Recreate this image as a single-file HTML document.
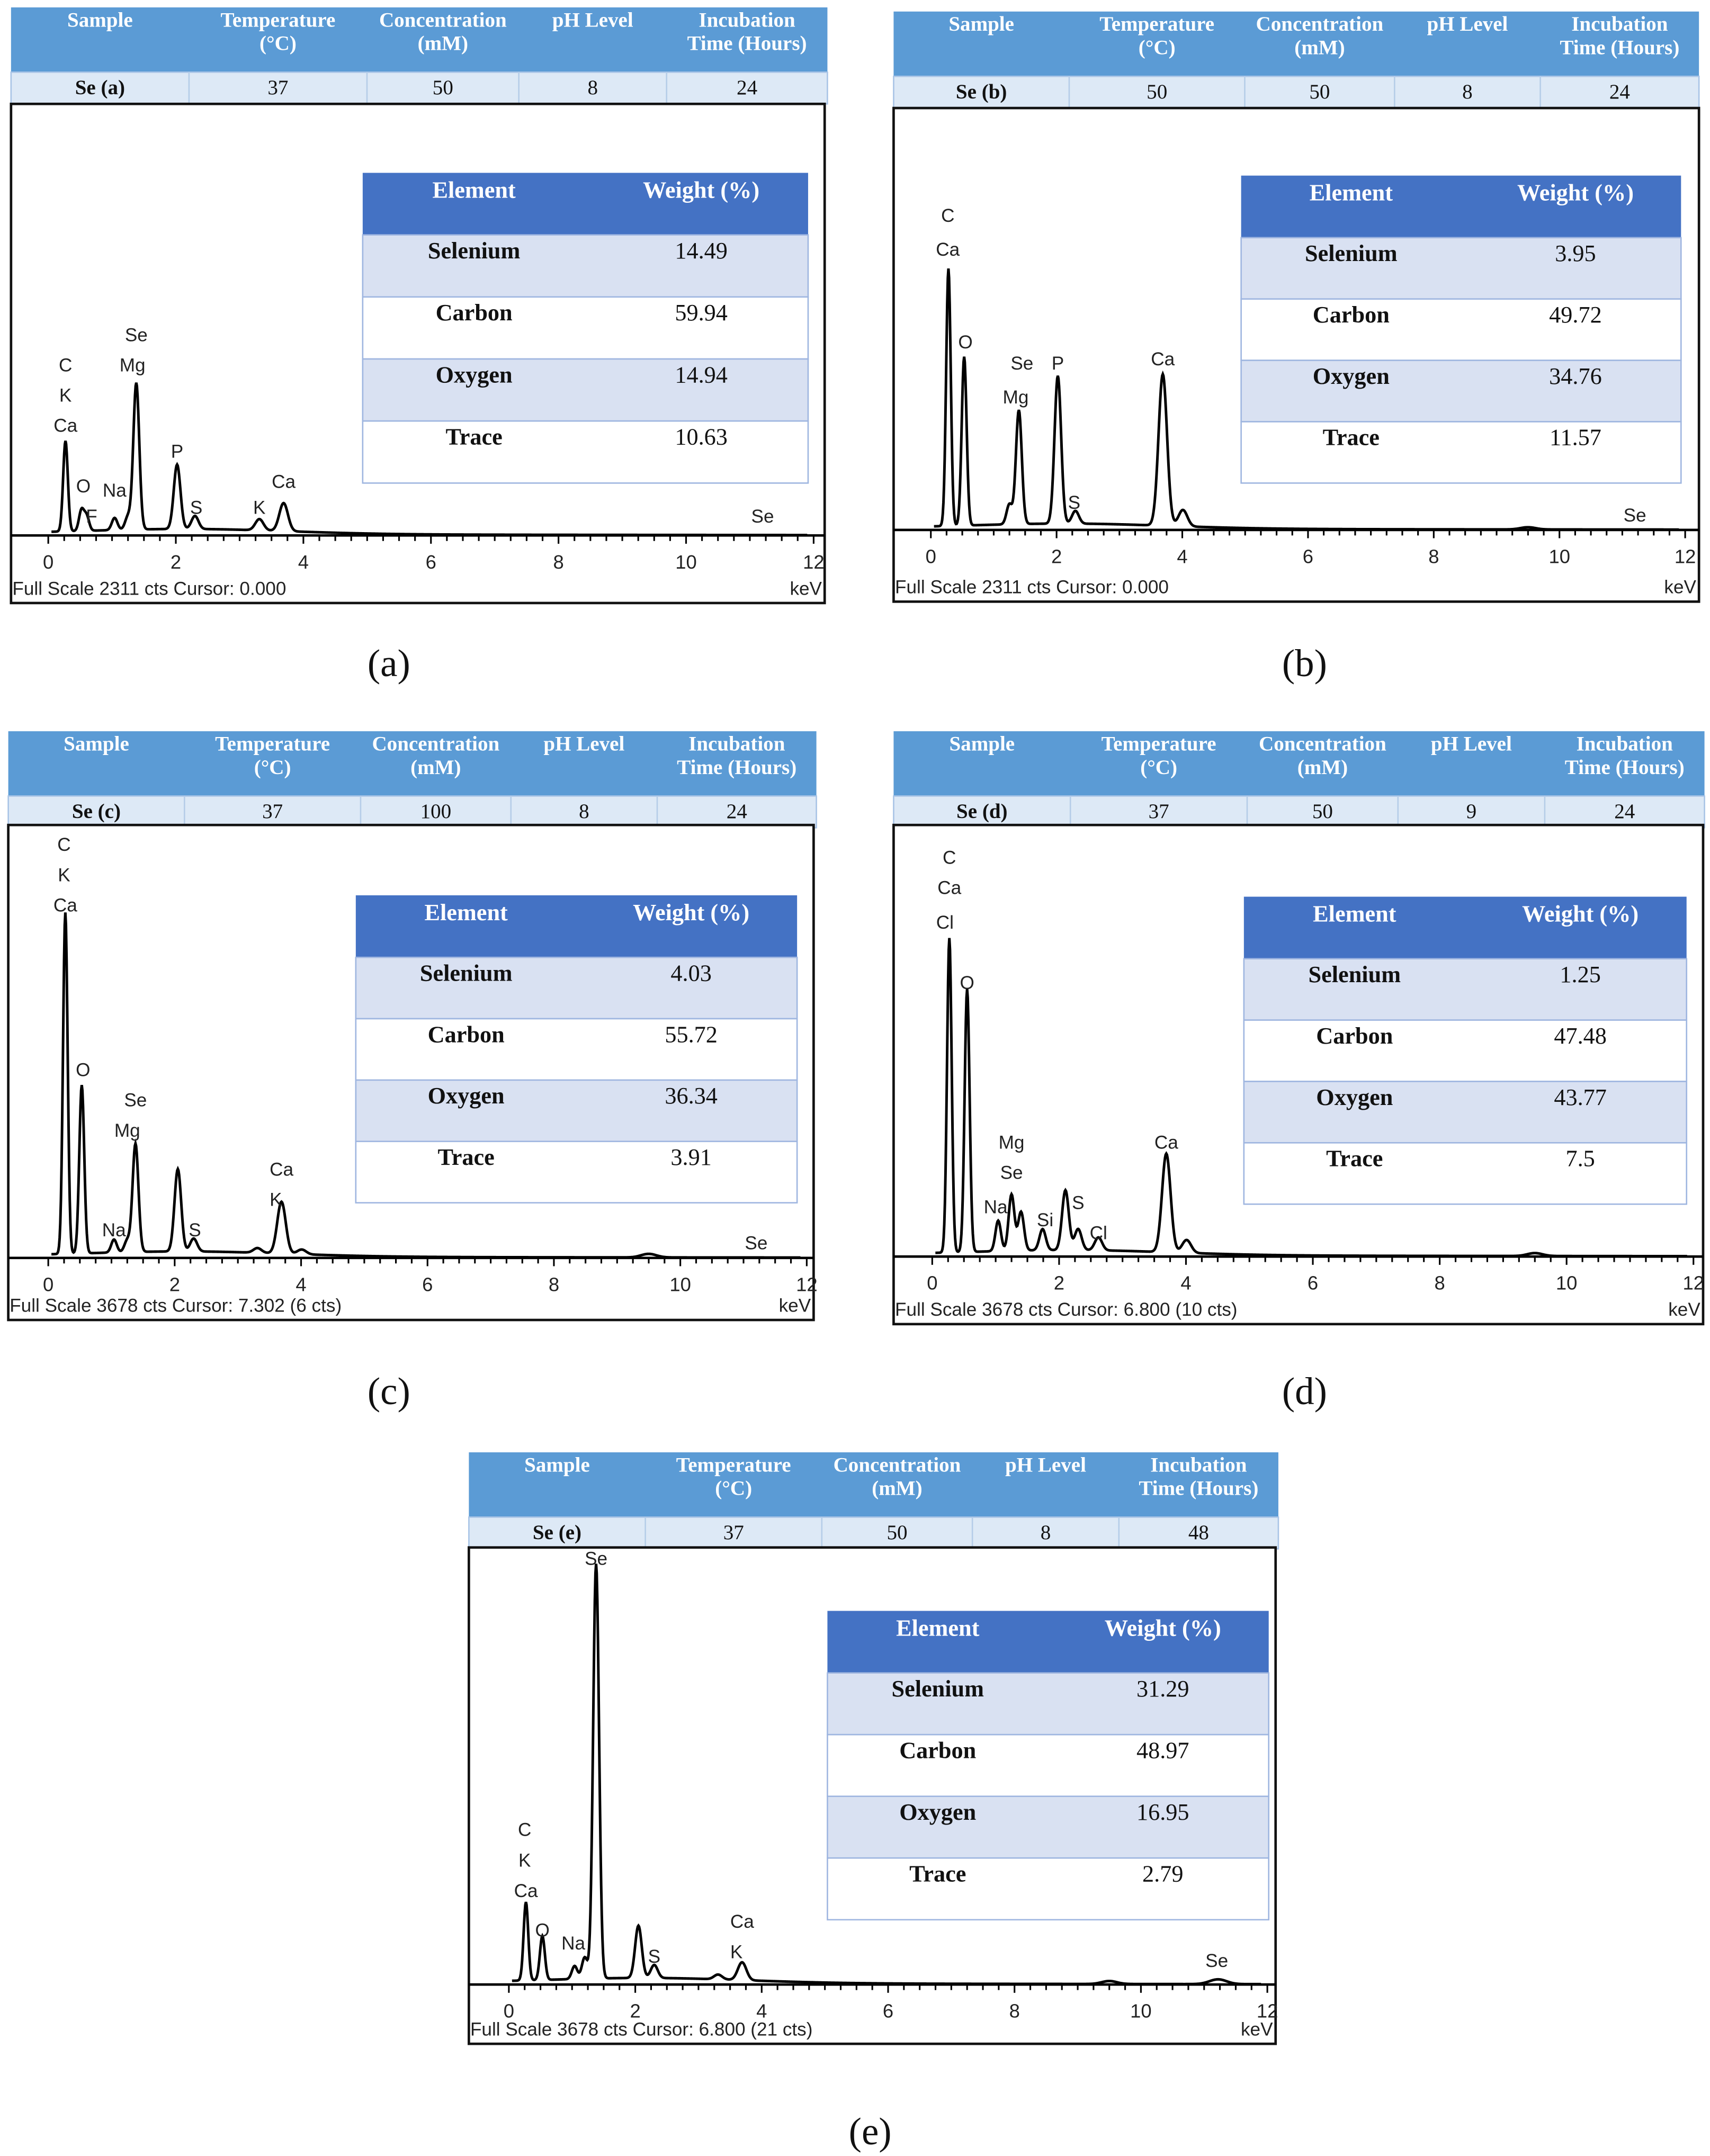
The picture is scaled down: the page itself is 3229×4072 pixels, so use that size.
<!DOCTYPE html>
<html><head><meta charset="utf-8"><style>
html,body{margin:0;padding:0;background:#fff}
svg{display:block}
text{font-family:"Liberation Serif",serif}
.sans{font-family:"Liberation Sans",sans-serif}
</style></head><body>
<svg id="fig" width="3229" height="4072" viewBox="0 0 1240 1563" xmlns="http://www.w3.org/2000/svg"></svg>
<script>
// ---- data ----
const sampleNames = ["Se (a)","Se (b)","Se (c)","Se (d)","Se (e)"];
const temperatures = ["37","50","37","37","37"];
const concentrations = ["50","50","100","50","50"];
const phLevels = ["8","8","8","9","8"];
const incubationTimes = ["24","24","24","24","48"];
const fullScales = [2311,2311,3678,3678,3678];
const cursorTexts = ["Cursor: 0.000","Cursor: 0.000","Cursor: 7.302  (6 cts)","Cursor: 6.800  (10 cts)","Cursor: 6.800  (21 cts)"];
const elementNames = ["Selenium","Carbon","Oxygen","Trace"];
const weightsA = ["14.49","59.94","14.94","10.63"];
const weightsB = ["3.95","49.72","34.76","11.57"];
const weightsC = ["4.03","55.72","36.34","3.91"];
const weightsD = ["1.25","47.48","43.77","7.5"];
const weightsE = ["31.29","48.97","16.95","2.79"];
const xTicks = [0,2,4,6,8,10,12];
// peak energies (keV) and heights (counts) per panel
const peaksEA = [0.27,0.52,0.6,1.04,1.25,1.38,2.02,2.3,3.31,3.69];
const peaksHA = [485,110,80,65,70,785,345,70,60,150];
const peaksEB = [0.28,0.53,1.25,1.4,2.02,2.3,3.69,4.01,9.5];
const peaksHB = [1410,925,110,625,810,70,830,90,12];
const peaksEC = [0.27,0.53,1.04,1.25,1.38,2.05,2.3,3.31,3.69,4.01,9.5];
const peaksHC = [2900,1430,110,100,920,700,110,40,440,40,30];
const peaksED = [0.27,0.55,1.04,1.25,1.4,1.74,2.1,2.3,2.62,3.69,4.01,9.5];
const peaksHD = [2680,2240,260,480,330,180,510,180,110,840,110,25];
const peaksEE = [0.27,0.53,1.04,1.2,1.38,2.05,2.3,3.31,3.69,9.5,11.22];
const peaksHE = [660,370,110,180,3490,440,110,40,150,25,40];
// peak labels: [text, keV, height fraction of plot]
const labelsA = [["C",0.27,0.38],["K",0.27,0.31],["Ca",0.27,0.24],["O",0.55,0.1],["F",0.68,0.03],["Na",1.04,0.09],["Se",1.38,0.45],["Mg",1.32,0.38],["P",2.02,0.18],["S",2.32,0.05],["K",3.31,0.05],["Ca",3.69,0.11],["Se",11.2,0.03]];
const labelsB = [["C",0.27,0.73],["Ca",0.27,0.65],["O",0.55,0.43],["Se",1.45,0.38],["Mg",1.35,0.3],["P",2.02,0.38],["S",2.28,0.05],["Ca",3.69,0.39],["Se",11.2,0.02]];
const labelsC = [["C",0.25,0.94],["K",0.25,0.87],["Ca",0.27,0.8],["O",0.55,0.42],["Se",1.38,0.35],["Mg",1.25,0.28],["Na",1.04,0.05],["S",2.32,0.05],["Ca",3.69,0.19],["K",3.6,0.12],["Se",11.2,0.02]];
const labelsD = [["C",0.27,0.91],["Ca",0.27,0.84],["Cl",0.2,0.76],["O",0.55,0.62],["Mg",1.25,0.25],["Se",1.25,0.18],["Na",1.0,0.1],["Si",1.78,0.07],["S",2.3,0.11],["Cl",2.62,0.04],["Ca",3.69,0.25]];
const labelsE = [["Se",1.38,0.96],["C",0.25,0.34],["K",0.25,0.27],["Ca",0.27,0.2],["O",0.53,0.11],["Na",1.02,0.08],["S",2.3,0.05],["Ca",3.69,0.13],["K",3.6,0.06],["Se",11.2,0.04]];

// ---- layout ----
const panels = [
 {hx:8,hy:5,hw:592,box:[8,75,590,362],base:388,x0:35,x12:590,tbl:[263,125,323,225],cap:"(a)",cx:282,cy:490,w:weightsA,pe:peaksEA,ph:peaksHA,lb:labelsA},
 {hx:648,hy:8,hw:584,box:[648,78,584,358],base:384,x0:675,x12:1222,tbl:[900,127,319,223],cap:"(b)",cx:946,cy:490,w:weightsB,pe:peaksEB,ph:peaksHB,lb:labelsB},
 {hx:6,hy:530,hw:586,box:[6,598,584,359],base:912,x0:35,x12:585,tbl:[258,649,320,223],cap:"(c)",cx:282,cy:1018,w:weightsC,pe:peaksEC,ph:peaksHC,lb:labelsC},
 {hx:648,hy:530,hw:588,box:[648,598,587,362],base:911,x0:676,x12:1228,tbl:[902,650,321,223],cap:"(d)",cx:946,cy:1018,w:weightsD,pe:peaksED,ph:peaksHD,lb:labelsD},
 {hx:340,hy:1053,hw:587,box:[340,1122,585,360],base:1439,x0:369,x12:919,tbl:[600,1168,320,224],cap:"(e)",cx:631,cy:1555,w:weightsE,pe:peaksEE,ph:peaksHE,lb:labelsE}
];
const svg=document.getElementById('fig');
const NS="http://www.w3.org/2000/svg";
function mk(tag,attrs,parent,txt){const e=document.createElementNS(NS,tag);for(const k in attrs)e.setAttribute(k,attrs[k]);if(txt!==undefined)e.textContent=txt;parent.appendChild(e);return e;}
const colFr=[0,0.218,0.436,0.622,0.803,1];
const heads=[["Sample"],["Temperature","(°C)"],["Concentration","(mM)"],["pH Level"],["Incubation","Time (Hours)"]];
panels.forEach((p,i)=>{
 const g=mk('g',{},svg);
 
 
 const ht=mk('g',{},g);
 
 
 mk('rect',{x:p.hx,y:p.hy,width:p.hw,height:47,fill:'#5b9bd5'},ht);
 mk('rect',{x:p.hx,y:p.hy+47,width:p.hw,height:23,fill:'#dde9f6',stroke:'#a9c4e6','stroke-width':1},ht);
 const vals=[sampleNames[i],temperatures[i],concentrations[i],phLevels[i],incubationTimes[i]];
 for(let c=0;c<5;c++){
  const xa=p.hx+p.hw*colFr[c],xb=p.hx+p.hw*colFr[c+1],xm=(xa+xb)/2;
  heads[c].forEach((t,k)=>mk('text',{x:xm,y:p.hy+14+k*17,'text-anchor':'middle','font-size':15,'font-weight':'bold',fill:'#fff'},ht,t));
  const vt=mk('text',{x:xm,y:p.hy+63,'text-anchor':'middle','font-size':15,'font-weight':c==0?'bold':'normal',fill:'#111'},ht,vals[c]);
  
  
  if(c>0)mk('line',{x1:xa,y1:p.hy+47,x2:xa,y2:p.hy+70,stroke:'#b5cde8','stroke-width':1},ht);
 }
 const [bx,by,bw,bh]=p.box;
 mk('rect',{x:bx,y:by,width:bw,height:bh,fill:'#fff',stroke:'#111','stroke-width':1.8},g);
 const sx=e=>p.x0+(p.x12-p.x0)*e/12;
 const H=p.base-by;
 const sy=c=>p.base-H*c/fullScales[i];
 let pts=[];
 for(let e=0.05;e<=11.9;e+=0.01){
  let c=0;
  for(let k=0;k<p.pe.length;k++){const s=0.034+0.009*p.pe[k];const d=(e-p.pe[k])/s;c+=p.ph[k]*Math.exp(-0.5*d*d);}
  c+=fullScales[i]*0.012*Math.exp(-Math.pow((e-2.2)/2.2,2));
  c+=fullScales[i]*0.004*Math.exp(-e/8);
  pts.push(sx(e).toFixed(2)+','+sy(c).toFixed(2));
 }
 const sp=mk('polyline',{points:pts.join(' '),fill:'none',stroke:'#000','stroke-width':1.9},g);
 
 
 mk('line',{x1:bx,y1:p.base,x2:bx+bw,y2:p.base,stroke:'#000','stroke-width':1.8},g);
 for(let e=0;e<=12.001;e+=0.25){const maj=Math.abs(e-Math.round(e/2)*2)<1e-6;mk('line',{x1:sx(e),y1:p.base,x2:sx(e),y2:p.base+(maj?6:4),stroke:'#000','stroke-width':1.2},g);}
 xTicks.forEach(t=>{const tl=mk('text',{x:sx(t),y:p.base+24,'text-anchor':'middle','font-size':14,class:'sans',fill:'#222'},g,String(t));
  
  });
 const fs=mk('text',{x:bx+1,y:by+bh-6,'font-size':13.5,class:'sans',fill:'#222'},g,'Full Scale '+fullScales[i]+' cts '+cursorTexts[i]);
 
 
 const kv=mk('text',{x:bx+bw-2,y:by+bh-6,'text-anchor':'end','font-size':13.5,class:'sans',fill:'#222'},g,'keV');
 
 
 p.lb.forEach(l=>{const t=mk('text',{x:sx(l[1]),y:p.base-H*l[2],'text-anchor':'middle','font-size':13.5,class:'sans',fill:'#222'},g,l[0]);
  
  });
 const [tx,ty,tw,th]=p.tbl;
 const ct=mk('g',{},g);
 
 
 const hh=45,rh=(th-hh)/4;
 mk('rect',{x:tx,y:ty,width:tw,height:hh,fill:'#4472c4'},ct);
 mk('text',{x:tx+tw*0.25,y:ty+18,'text-anchor':'middle','font-size':17,'font-weight':'bold',fill:'#fff'},ct,'Element');
 mk('text',{x:tx+tw*0.76,y:ty+18,'text-anchor':'middle','font-size':17,'font-weight':'bold',fill:'#fff'},ct,'Weight (%)');
 for(let r=0;r<4;r++){
  const ry=ty+hh+r*rh;
  mk('rect',{x:tx,y:ry,width:tw,height:rh,fill:r%2==0?'#d9e1f2':'#fff',stroke:'#9fb6e0','stroke-width':1},ct);
  mk('text',{x:tx+tw*0.25,y:ry+17,'text-anchor':'middle','font-size':17,'font-weight':'bold',fill:'#111'},ct,elementNames[r]);
  const wt=mk('text',{x:tx+tw*0.76,y:ry+17,'text-anchor':'middle','font-size':17,fill:'#111'},ct,p.w[r]);
  
  
 }
 const cap=mk('text',{x:p.cx,y:p.cy,'text-anchor':'middle','font-size':28,fill:'#111'},g,p.cap);
 
 
});
</script>
</body></html>
